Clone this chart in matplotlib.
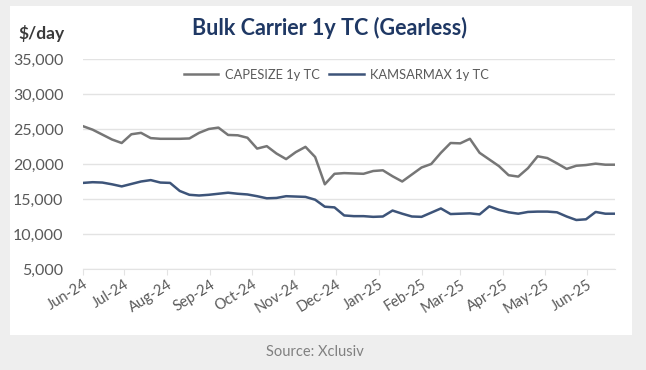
import numpy as np
import pandas as pd
import matplotlib
matplotlib.use("Agg")
import matplotlib.pyplot as plt
import matplotlib.dates as mdates
from matplotlib.ticker import FuncFormatter

plt.rcParams['font.family'] = ['Lato', 'DejaVu Sans']

# weekly assessments, $/day
weeks = pd.date_range("2024-06-01", periods=56, freq="7D")

capesize = [25400, 24900, 24200, 23500, 23000, 24250, 24450, 23700, 23600, 23600,
            23600, 23650, 24450, 25000, 25200, 24150, 24100, 23750, 22200, 22550,
            21500, 20700, 21700, 22450, 21000, 17100, 18600, 18700, 18650, 18600,
            19000, 19100, 18250, 17500, 18500, 19500, 20000, 21600, 23000, 22950,
            23600, 21600, 20650, 19700, 18400, 18200, 19400, 21100, 20850, 20100,
            19300, 19750, 19850, 20050, 19900, 19900]

kamsarmax = [17300, 17400, 17350, 17100, 16800, 17150, 17500, 17700, 17350, 17300,
             16150, 15600, 15500, 15600, 15750, 15900, 15750, 15650, 15400, 15100,
             15150, 15400, 15350, 15300, 14900, 13900, 13800, 12650, 12550, 12550,
             12450, 12500, 13350, 12900, 12500, 12450, 13050, 13650, 12850, 12900,
             12950, 12800, 13950, 13450, 13100, 12900, 13150, 13200, 13200, 13100,
             12500, 12000, 12100, 13150, 12900, 12900]

month_ticks = pd.date_range("2024-06-01", "2025-06-01", freq="MS")

fig = plt.figure(figsize=(6.46, 3.70), dpi=100)
fig.patch.set_facecolor("#eeeeee")

# white chart panel behind everything
panel = fig.add_axes([10 / 646, 1 - 335 / 370, 622 / 646, 329 / 370], zorder=0)
panel.set_facecolor("white")
panel.set_xticks([])
panel.set_yticks([])
for s in panel.spines.values():
    s.set_visible(False)

ax = fig.add_axes([83 / 646, 1 - 269 / 370, 532 / 646, 210 / 370], zorder=1)
ax.set_facecolor("none")

ax.plot(weeks, capesize, color="#767676", lw=1.8, label="CAPESIZE 1y TC")
ax.plot(weeks, kamsarmax, color="#3d5479", lw=1.8, label="KAMSARMAX 1y TC")

ax.set_ylim(5000, 35000)
ax.set_yticks(np.arange(5000, 35001, 5000))
ax.yaxis.set_major_formatter(FuncFormatter(lambda v, p: f"{int(v):,}"))
ax.set_xlim(weeks[0], weeks[-1])
ax.set_xticks(month_ticks)
ax.xaxis.set_major_formatter(mdates.DateFormatter("%b-%y"))

ax.grid(axis="y", color="#e3e3e3", lw=1)
ax.set_axisbelow(True)
for s in ["top", "right", "left"]:
    ax.spines[s].set_visible(False)
ax.spines["bottom"].set_color("#e3e3e3")

ax.tick_params(axis="y", length=0, pad=14, labelsize=11.5, labelcolor="#595959")
ax.tick_params(axis="x", length=4, color="#e3e3e3", pad=2, labelsize=10.5,
               labelcolor="#595959")
for lab in ax.get_xticklabels():
    lab.set_rotation(32)
    lab.set_ha("right")
    lab.set_rotation_mode("anchor")

leg = ax.legend(loc="center", bbox_to_anchor=(0.476, 0.924), ncol=2, frameon=False,
                fontsize=9.3, handlelength=2.7, columnspacing=0.7, handletextpad=0.5)
for t in leg.get_texts():
    t.set_color("#595959")

fig.text(330 / 646, 1 - 28 / 370, "Bulk Carrier 1y TC (Gearless)", ha="center",
         va="center", fontsize=15.5, fontweight="bold", color="#1f3864")
fig.text(18 / 646, 1 - 33 / 370, "$/day", ha="left", va="center", fontsize=12.5,
         fontweight="bold", color="#3a3a3a")
fig.text(315 / 646, 1 - 352 / 370, "Source: Xclusiv", ha="center", va="center",
         fontsize=10.5, color="#808080")

fig.savefig("out.png", dpi=100, facecolor=fig.get_facecolor())
